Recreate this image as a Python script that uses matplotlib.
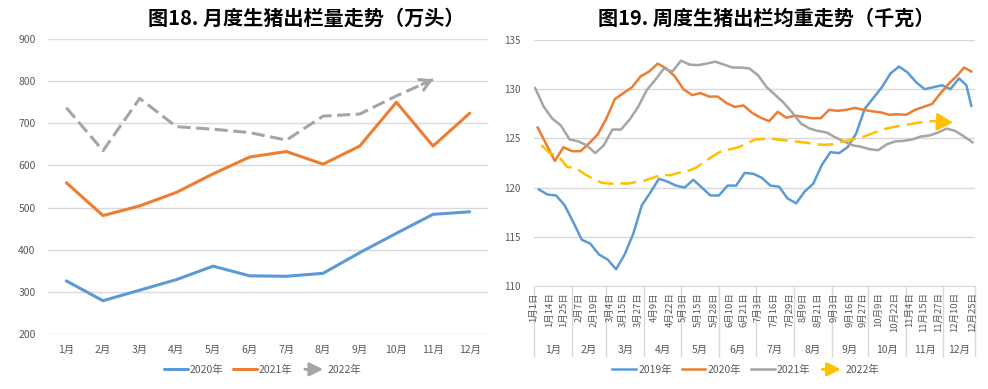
import matplotlib
matplotlib.use("Agg")
import matplotlib.pyplot as plt
import numpy as np
import pandas as pd
from matplotlib.legend_handler import HandlerBase
from matplotlib.patches import FancyArrowPatch

plt.rcParams['font.family'] = ['Noto Sans CJK SC', 'DejaVu Sans']

# ---- left chart: monthly slaughter (万头)
months = ['1月', '2月', '3月', '4月', '5月', '6月', '7月', '8月', '9月', '10月', '11月', '12月']
out_2020 = [326, 279, 304, 329, 361, 338, 337, 344, 393, 439, 484, 490]
out_2021 = [559, 481, 504, 536, 580, 620, 633, 603, 646, 750, 646, 724]
out_2022 = [737, 635, 759, 692, 686, 678, 660, 717, 722, 765, 804]

# ---- right chart: weekly average weight (千克), x = day of year
day_2019 = np.r_[np.arange(4, 348, 7), 353, 357]
wt_2019 = [119.8, 119.3, 119.2, 118.2, 116.5, 114.7, 114.3, 113.2, 112.7, 111.7,
           113.2, 115.3, 118.2, 119.5, 120.9, 120.6, 120.2, 120.0, 120.8, 120.0,
           119.2, 119.2, 120.2, 120.2, 121.5, 121.4, 121.0, 120.2, 120.1, 118.9,
           118.4, 119.6, 120.4, 122.3, 123.6, 123.5, 124.1, 125.5, 128.0, 129.1,
           130.2, 131.6, 132.3, 131.7, 130.7, 130.0, 130.2, 130.4, 130.0, 131.1,
           130.4, 128.3]
day_2020 = np.r_[np.arange(3, 347, 7), 351, 357]
wt_2020 = [126.1, 124.4, 122.7, 124.1, 123.7, 123.7, 124.5, 125.4, 127.0, 129.0,
           129.6, 130.2, 131.3, 131.8, 132.6, 132.1, 131.3, 130.0, 129.4, 129.6,
           129.25, 129.25, 128.6, 128.2, 128.35, 127.6, 127.1, 126.75, 127.7, 127.1,
           127.3, 127.2, 127.05, 127.05, 127.9, 127.8, 127.9, 128.1, 127.9, 127.75,
           127.65, 127.4, 127.45, 127.4, 127.9, 128.2, 128.5, 129.6, 130.6, 131.45,
           132.2, 131.8]
day_2021 = np.arange(1, 359, 7)
wt_2021 = [130.1, 128.2, 127.0, 126.3, 124.9, 124.7, 124.3, 123.5, 124.3, 125.9,
           125.9, 126.9, 128.2, 129.9, 130.95, 132.1, 131.8, 132.9, 132.5, 132.45,
           132.6, 132.8, 132.5, 132.2, 132.2, 132.1, 131.4, 130.2, 129.4, 128.6,
           127.6, 126.5, 126.0, 125.75, 125.6, 125.1, 124.7, 124.3, 124.15, 123.9,
           123.8, 124.4, 124.7, 124.75, 124.9, 125.2, 125.3, 125.6, 126.0, 125.75,
           125.2, 124.6]
day_2022 = np.arange(6, 343, 7)
wt_2022 = [124.3, 123.5, 123.2, 122.1, 122.0, 121.4, 120.9, 120.5, 120.4, 120.45,
           120.4, 120.55, 120.7, 121.0, 121.3, 121.25, 121.5, 121.65, 122.0, 122.6,
           123.2, 123.7, 123.9, 124.1, 124.5, 124.9, 124.95, 124.95, 124.85, 124.75,
           124.65, 124.55, 124.4, 124.35, 124.4, 124.65, 124.85, 125.0, 125.3, 125.65,
           125.95, 126.15, 126.3, 126.45, 126.6, 126.75, 126.75, 126.65, 126.6]

date_labels = ['01-01', '01-14', '01-25', '02-07', '02-19', '03-04', '03-15', '03-27',
               '04-09', '04-22', '05-03', '05-15', '05-28', '06-10', '06-21', '07-03',
               '07-16', '07-29', '08-09', '08-21', '09-03', '09-16', '09-27', '10-09',
               '10-22', '11-04', '11-15', '11-27', '12-10', '12-25']

BLUE, ORANGE, GRAY, YELLOW = '#5B9BD5', '#ED7D31', '#A5A5A5', '#FFC000'
GRID, TXT = '#D9D9D9', '#595959'


class ArrowHandler(HandlerBase):
    def __init__(self, color):
        super().__init__()
        self.color = color

    def create_artists(self, legend, orig_handle, xdescent, ydescent,
                       width, height, fontsize, trans):
        y = height / 2 - ydescent
        arr = FancyArrowPatch((-xdescent, y), (width - xdescent, y),
                              arrowstyle='-|>,head_length=0.9,head_width=0.45',
                              mutation_scale=9, color=self.color, lw=2,
                              transform=trans)
        return [arr]


fig = plt.figure(figsize=(9.88, 3.89), dpi=100)

# ================= left =================
ax1 = fig.add_axes([0.0486, 0.1414, 0.4454, 0.7583])
x = np.arange(1, 13)
l20, = ax1.plot(x, out_2020, color=BLUE, lw=2.2, solid_capstyle='round')
l21, = ax1.plot(x, out_2021, color=ORANGE, lw=2.2, solid_capstyle='round')
l22, = ax1.plot(x[:len(out_2022)], out_2022, color=GRAY, lw=2.2, dashes=(4.3, 1.8))
# open arrow head at the end of 2022
p0 = np.array([x[len(out_2022) - 2], out_2022[-2]])
p1 = np.array([x[len(out_2022) - 1], out_2022[-1]])
ax1.annotate('', xy=p1, xytext=p0 + 0.7 * (p1 - p0),
             arrowprops=dict(arrowstyle='->,head_length=0.6,head_width=0.35',
                             color=GRAY, lw=2.2, mutation_scale=12,
                             shrinkA=0, shrinkB=0))
ax1.set_xlim(0.5, 12.5)
ax1.set_ylim(200, 900)
ax1.set_yticks(range(200, 901, 100))
ax1.set_xticks(x)
ax1.set_xticklabels(months)
ax1.yaxis.grid(True, color=GRID, lw=1)
ax1.set_axisbelow(True)
for s in ax1.spines.values():
    s.set_visible(False)
ax1.tick_params(length=0, colors=TXT, labelsize=7.5)
ax1.tick_params(axis='x', pad=8)
ax1.tick_params(axis='y', pad=9)

fig.text(0.31, 0.952, '图18. 月度生猪出栏量走势（万头）', ha='center', va='center',
         fontsize=14.5, fontweight='bold')
fig.legend([l20, l21, l22], ['2020年', '2021年', '2022年'],
           handler_map={l22: ArrowHandler(GRAY)},
           loc='center', bbox_to_anchor=(0.266, 0.049), ncol=3, frameon=False,
           fontsize=7.5, labelcolor=TXT, handlelength=2.3, handletextpad=0.2,
           columnspacing=0.9)

# ================= right =================
ax2 = fig.add_axes([0.5405, 0.2648, 0.4463, 0.6324])
r19, = ax2.plot(day_2019, wt_2019, color=BLUE, lw=1.8)
r20, = ax2.plot(day_2020, wt_2020, color=ORANGE, lw=1.8)
r21, = ax2.plot(day_2021, wt_2021, color=GRAY, lw=1.8)
r22, = ax2.plot(day_2022[:-1], wt_2022[:-1], color=YELLOW, lw=1.8, dashes=(6.4, 2.8))
ax2.annotate('', xy=(day_2022[-1], wt_2022[-1]), xytext=(day_2022[-2], wt_2022[-2]),
             arrowprops=dict(arrowstyle='-|>,head_length=0.8,head_width=0.45',
                             color=YELLOW, lw=1.8, mutation_scale=12,
                             shrinkA=0, shrinkB=0))
ax2.set_xlim(0, 360)
ax2.set_ylim(110, 135)
ax2.set_yticks(range(110, 136, 5))
ax2.set_xticks([])
ax2.yaxis.grid(True, color=GRID, lw=1)
ax2.set_axisbelow(True)
for k, s in ax2.spines.items():
    s.set_visible(k == 'bottom')
ax2.spines['bottom'].set_color(GRID)
ax2.tick_params(length=0, colors=TXT, labelsize=7)
ax2.tick_params(axis='y', pad=10)

xt = ax2.get_xaxis_transform()
start = pd.Timestamp('2019-01-01')
for s in date_labels:
    d = pd.Timestamp('2019-' + s)
    ax2.text((d - start).days, -0.025, f'{d.month}月{d.day}日', rotation=90,
             ha='center', va='top', fontsize=6.8, color=TXT, transform=xt)
bounds = [(pd.Timestamp(2019, m, 1) - start).days for m in range(1, 13)] + [360]
for i, m in enumerate(months):
    ax2.text((bounds[i] + bounds[i + 1]) / 2, -0.26, m, ha='center', va='center',
             fontsize=7.5, color=TXT, transform=xt)
ax2.vlines(bounds, -0.29, 0, transform=xt, colors=GRID, lw=1, clip_on=False)

fig.text(0.776, 0.952, '图19. 周度生猪出栏均重走势（千克）', ha='center', va='center',
         fontsize=14.5, fontweight='bold')
fig.legend([r19, r20, r21, r22], ['2019年', '2020年', '2021年', '2022年'],
           handler_map={r22: ArrowHandler(YELLOW)},
           loc='center', bbox_to_anchor=(0.755, 0.049), ncol=4, frameon=False,
           fontsize=7.5, labelcolor=TXT, handlelength=2.3, handletextpad=0.2,
           columnspacing=0.9)

fig.savefig('out.png', dpi=100)
